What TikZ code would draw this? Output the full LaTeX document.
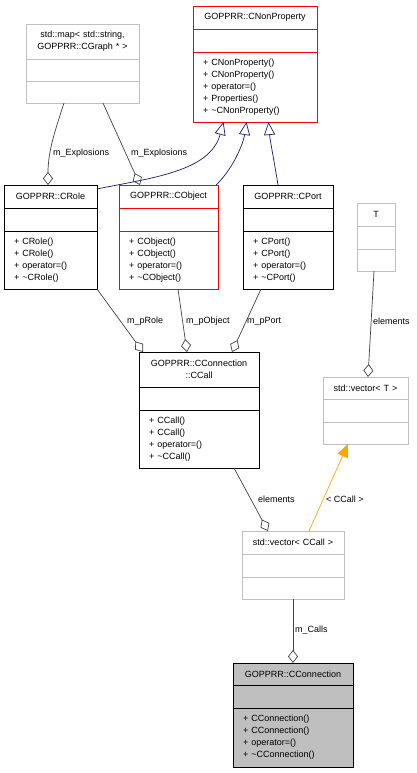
\documentclass[tikz,border=0pt]{standalone}
\usepackage{fontspec}
\setmainfont{Liberation Sans}
\usetikzlibrary{arrows.meta,positioning}
\definecolor{edgegray}{HTML}{404040}
\definecolor{boxgray}{HTML}{BFBFBF}
\definecolor{navyedge}{HTML}{191970}
\definecolor{tmplorange}{HTML}{FFA500}
\definecolor{mainfill}{HTML}{BFBFBF}

\begin{document}
\begin{tikzpicture}[
  x=1pt, y=-1pt,
  every node/.style={font=\fontsize{9}{12}\selectfont},
  sect/.style={draw, outer sep=0pt, inner xsep=4pt, inner ysep=0pt, align=center, line width=0.8pt},
  meth/.style={sect, align=left, inner xsep=10pt},
  redbox/.style={draw=red},
  graybox/.style={draw=boxgray},
  mainbox/.style={fill=mainfill},
  lbl/.style={anchor=west, inner sep=0pt},
  agg/.style={edgegray, line width=0.7pt, -{Diamond[open, length=13pt, width=10pt]}},
  inh/.style={navyedge, line width=0.7pt, -{Triangle[open, length=13pt, width=11pt]}},
  tmpl/.style={tmplorange, line width=0.7pt, -{Triangle[length=13pt, width=11pt]}}
]
\useasboundingbox (0,0) rectangle (417,773);

% std::map
\node[sect, graybox, anchor=north west, text width=105pt, minimum height=35pt] (map) at (26,24) {std::map< std::string,\\ GOPPRR::CGraph * >};
\node[sect, graybox, minimum width=113pt, minimum height=22pt, below=0pt of map] (map-a) {};
\node[sect, graybox, minimum width=113pt, minimum height=22pt, below=0pt of map-a] (map-m) {};

% CNonProperty
\node[sect, redbox, anchor=north west, text width=116pt, minimum height=23pt] (cnp) at (193,6) {GOPPRR::CNonProperty};
\node[sect, redbox, minimum width=124pt, minimum height=23pt, below=0pt of cnp] (cnp-a) {};
\node[meth, redbox, text width=104pt, minimum height=70pt, below=0pt of cnp-a] (cnp-m) {+ CNonProperty()\\+ CNonProperty()\\+ operator=()\\+ Properties()\\+ \textasciitilde CNonProperty()};

% CRole
\node[sect, anchor=north west, text width=85pt, minimum height=23pt] (crole) at (4,185) {GOPPRR::CRole};
\node[sect, minimum width=93pt, minimum height=23pt, below=0pt of crole] (crole-a) {};
\node[meth, text width=73pt, minimum height=58pt, below=0pt of crole-a] (crole-m) {+ CRole()\\+ CRole()\\+ operator=()\\+ \textasciitilde CRole()};

% CObject
\node[sect, redbox, anchor=north west, text width=91pt, minimum height=23pt] (cobj) at (119,185) {GOPPRR::CObject};
\node[sect, redbox, minimum width=99pt, minimum height=23pt, below=0pt of cobj] (cobj-a) {};
\node[meth, redbox, text width=79pt, minimum height=58pt, below=0pt of cobj-a] (cobj-m) {+ CObject()\\+ CObject()\\+ operator=()\\+ \textasciitilde CObject()};

% CPort
\node[sect, anchor=north west, text width=82pt, minimum height=23pt] (cport) at (243,185) {GOPPRR::CPort};
\node[sect, minimum width=90pt, minimum height=23pt, below=0pt of cport] (cport-a) {};
\node[meth, text width=70pt, minimum height=58pt, below=0pt of cport-a] (cport-m) {+ CPort()\\+ CPort()\\+ operator=()\\+ \textasciitilde CPort()};

% T
\node[sect, graybox, anchor=north west, text width=30pt, minimum height=23pt] (t) at (357,203) {T};
\node[sect, graybox, minimum width=38pt, minimum height=23pt, below=0pt of t] (t-a) {};
\node[sect, graybox, minimum width=38pt, minimum height=22pt, below=0pt of t-a] (t-m) {};

% CConnection::CCall
\node[sect, anchor=north west, text width=112pt, minimum height=35pt] (ccall) at (139,352) {GOPPRR::CConnection\\::CCall};
\node[sect, minimum width=120pt, minimum height=23pt, below=0pt of ccall] (ccall-a) {};
\node[meth, text width=100pt, minimum height=58pt, below=0pt of ccall-a] (ccall-m) {+ CCall()\\+ CCall()\\+ operator=()\\+ \textasciitilde CCall()};

% std::vector< T >
\node[sect, graybox, anchor=north west, text width=77pt, minimum height=22pt] (vect) at (323,377) {std::vector< T >};
\node[sect, graybox, minimum width=85pt, minimum height=23pt, below=0pt of vect] (vect-a) {};
\node[sect, graybox, minimum width=85pt, minimum height=22pt, below=0pt of vect-a] (vect-m) {};

% std::vector< CCall >
\node[sect, graybox, anchor=north west, text width=94pt, minimum height=23pt] (vecc) at (242,531) {std::vector< CCall >};
\node[sect, graybox, minimum width=102pt, minimum height=23pt, below=0pt of vecc] (vecc-a) {};
\node[sect, graybox, minimum width=102pt, minimum height=22pt, below=0pt of vecc-a] (vecc-m) {};

% CConnection
\node[sect, mainbox, anchor=north west, text width=112pt, minimum height=22pt] (cconn) at (233,663) {GOPPRR::CConnection};
\node[sect, mainbox, minimum width=120pt, minimum height=23pt, below=0pt of cconn] (cconn-a) {};
\node[meth, mainbox, text width=100pt, minimum height=59pt, below=0pt of cconn-a] (cconn-m) {+ CConnection()\\+ CConnection()\\+ operator=()\\+ \textasciitilde CConnection()};

% inheritance
\draw[inh] ([yshift=-4pt]crole.north east) .. controls (150,178) and (210,172) .. ([xshift=-31.5pt]cnp-m.south);
\draw[inh] ([xshift=-2pt]cobj.north east) .. controls (232,170) and (243,145) .. ([xshift=-8.5pt]cnp-m.south);
\draw[inh] ([xshift=-10pt]cport.north) .. controls (274,160) and (270,140) .. ([xshift=13.5pt]cnp-m.south);
\draw[tmpl] ([xshift=16pt]vecc.north) -- ([xshift=-17.5pt]vect-m.south);

% members
\draw[agg] ([xshift=-18.5pt]map-m.south) .. controls (56,128) and (48,150) .. ([xshift=-2.5pt]crole.north);
\draw[agg] ([xshift=20.5pt]map-m.south) -- ([xshift=-28.5pt]cobj.north);
\draw[agg] (crole-m.south east) -- ([xshift=-56pt]ccall.north);
\draw[agg] ([xshift=9.5pt]cobj-m.south) -- ([xshift=-12pt]ccall.north);
\draw[agg] ([xshift=-27pt]cport-m.south) -- ([xshift=33pt]ccall.north);
\draw[agg] ([xshift=-2pt]t-m.south) -- ([xshift=2.5pt]vect.north);
\draw[agg] ([xshift=35pt]ccall-m.south) -- ([xshift=-25pt]vecc.north);
\draw[agg] (vecc-m.south) -- (cconn.north);

\node[lbl] (l-exp1) at (53,153) {m\_Explosions};
\node[lbl] (l-exp2) at (131,153) {m\_Explosions};
\node[lbl] (l-role) at (127,321) {m\_pRole};
\node[lbl] (l-obj) at (186,321) {m\_pObject};
\node[lbl] (l-port) at (247,321) {m\_pPort};
\node[lbl] (l-elt) at (373,321) {elements};
\node[lbl] (l-elc) at (258,499) {elements};
\node[lbl] (l-tmpl) at (326,499) {< CCall >};
\node[lbl] (l-calls) at (295,630) {m\_Calls};
\end{tikzpicture}
\end{document}
